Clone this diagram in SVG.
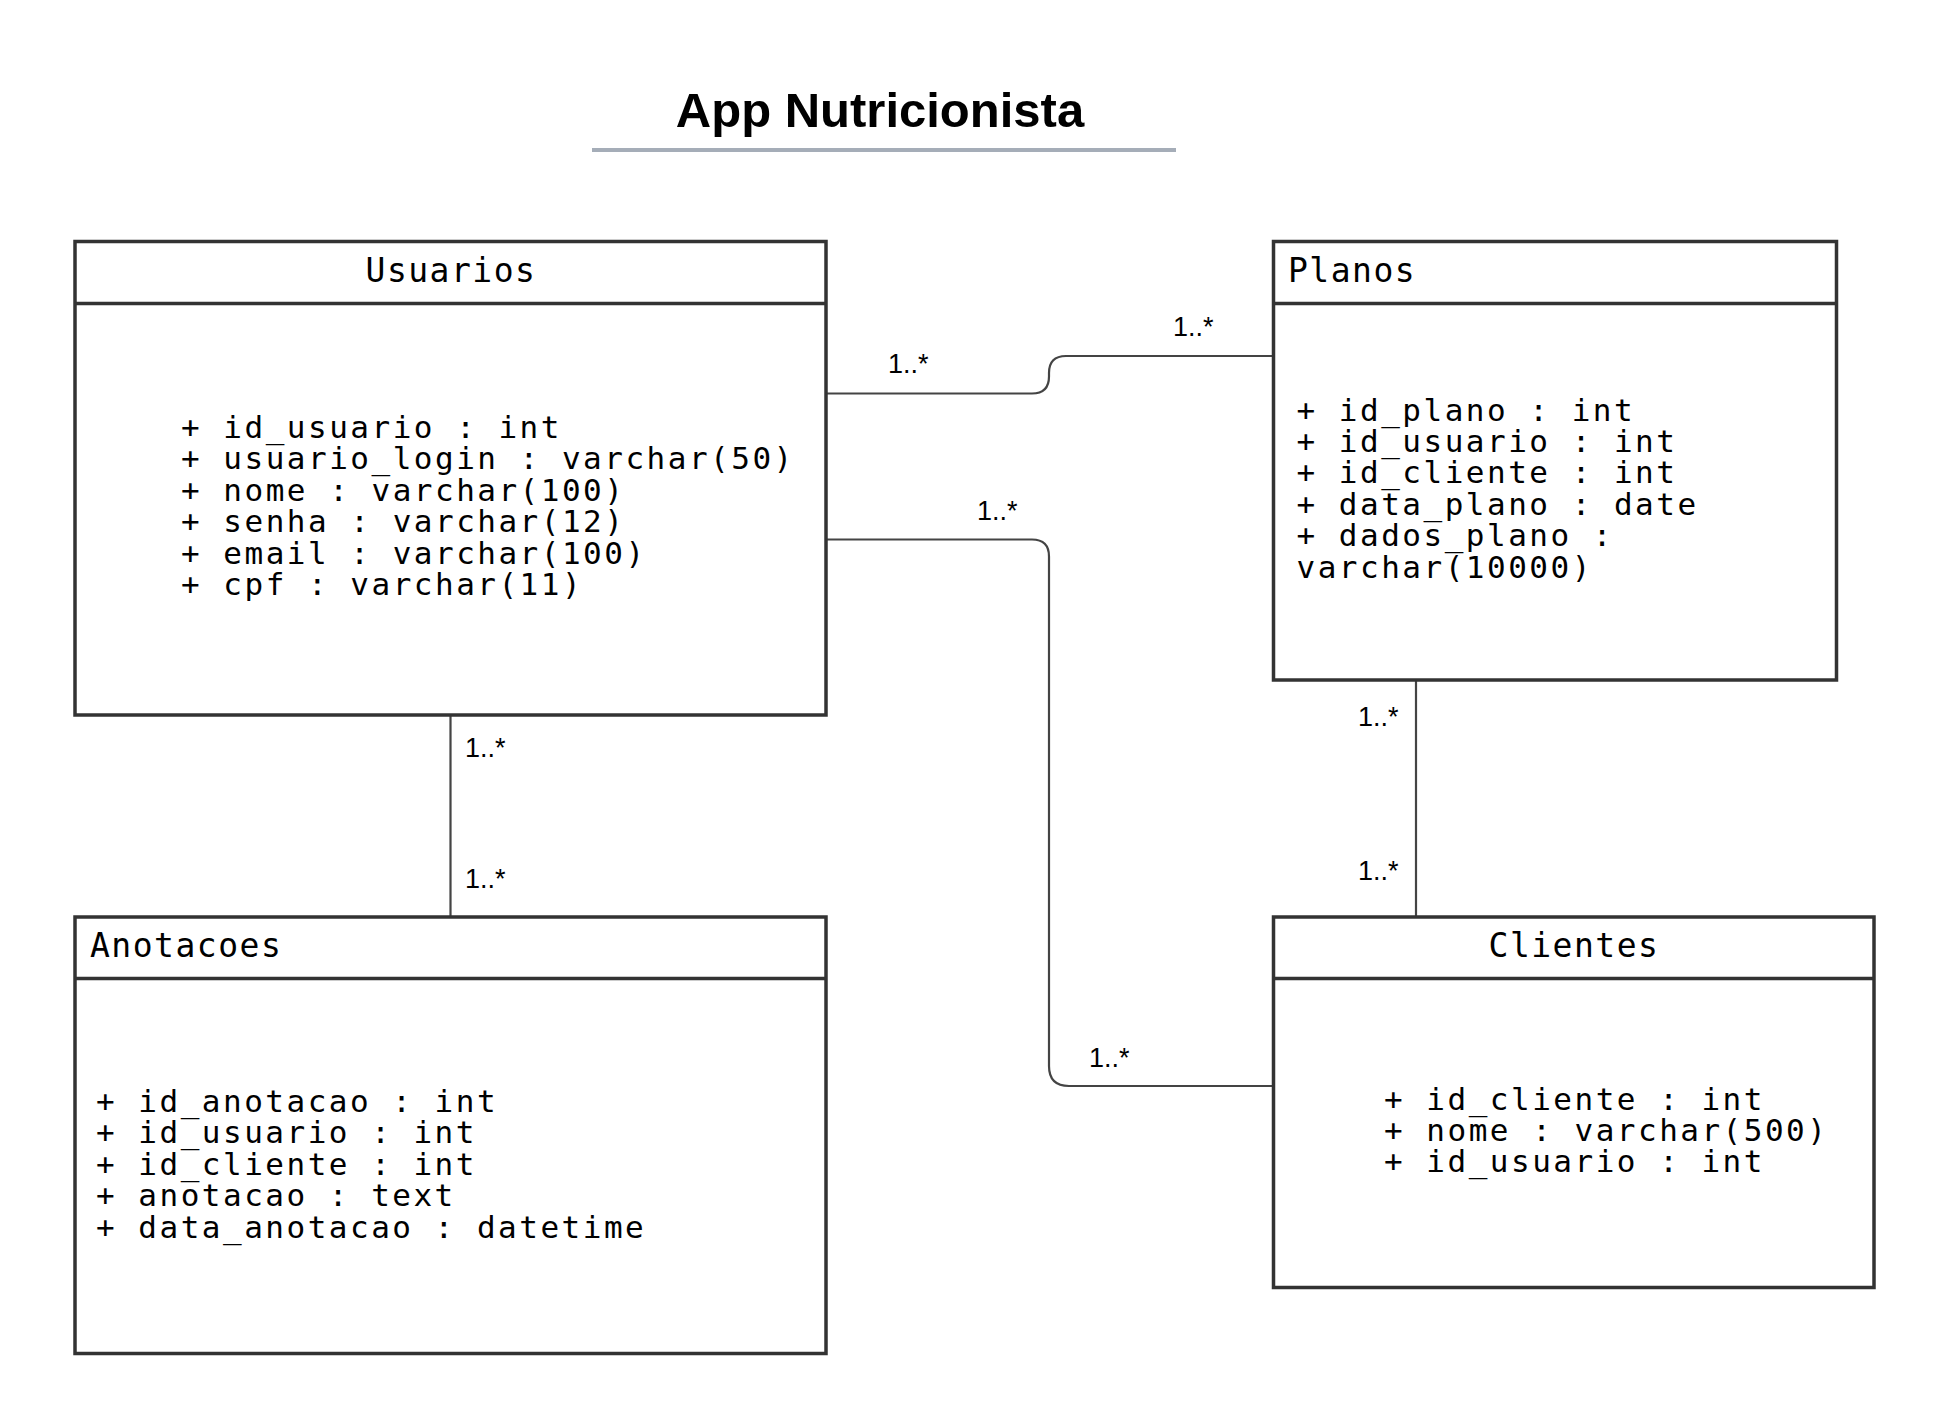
<svg xmlns="http://www.w3.org/2000/svg" width="1956" height="1423" viewBox="0 0 1956 1423">
<style>
.box{fill:#ffffff;stroke:#333333;stroke-width:3.5}
.div{stroke:#333333;stroke-width:3.5;fill:none}
.hdr{font-family:"DejaVu Sans Mono",monospace;font-size:33px;letter-spacing:1.5px;fill:#000}
.body{font-family:"DejaVu Sans Mono",monospace;font-size:31px;letter-spacing:2.5px;fill:#000}
.lbl{font-family:"Liberation Sans",Arial,sans-serif;font-size:27px;fill:#000}
.conn{fill:none;stroke:#444444;stroke-width:2.2}
.title{font-family:"Liberation Sans",Arial,sans-serif;font-size:49px;font-weight:bold;fill:#000}
</style>
<rect width="1956" height="1423" fill="#ffffff"/>
<g id="title">
<text class="title" x="880" y="127" text-anchor="middle">App Nutricionista</text>
<line x1="592" y1="150" x2="1176" y2="150" stroke="#a5adb8" stroke-width="4"/>
</g>
<g id="connectors">
<path class="conn" d="M826,393.5 H1032 Q1049,393.5 1049,376.5 V373 Q1049,356 1066,356 H1273.5"/>
<path class="conn" d="M826,539.5 H1032 Q1049,539.5 1049,556.5 V1066 Q1049,1086 1069,1086 H1273.5"/>
<path class="conn" d="M450.5,715 V917"/>
<path class="conn" d="M1416,680 V917"/>
<text class="lbl" x="888" y="373">1..*</text>
<text class="lbl" x="1173" y="336">1..*</text>
<text class="lbl" x="977" y="520">1..*</text>
<text class="lbl" x="1089" y="1067">1..*</text>
<text class="lbl" x="465" y="757">1..*</text>
<text class="lbl" x="465" y="888">1..*</text>
<text class="lbl" x="1358" y="726">1..*</text>
<text class="lbl" x="1358" y="880">1..*</text>
</g>
<g id="usuarios">
<rect class="box" x="75" y="241.5" width="751" height="473.5"/>
<line class="div" x1="75" y1="303.5" x2="826" y2="303.5"/>
<text class="hdr" x="451" y="282" text-anchor="middle">Usuarios</text>
<text class="body" x="181" y="438">+ id_usuario : int</text>
<text class="body" x="181" y="469.4">+ usuario_login : varchar(50)</text>
<text class="body" x="181" y="500.8">+ nome : varchar(100)</text>
<text class="body" x="181" y="532.2">+ senha : varchar(12)</text>
<text class="body" x="181" y="563.6">+ email : varchar(100)</text>
<text class="body" x="181" y="595">+ cpf : varchar(11)</text>
</g>
<g id="planos">
<rect class="box" x="1273.5" y="241.5" width="563" height="438.5"/>
<line class="div" x1="1273.5" y1="303.5" x2="1836.5" y2="303.5"/>
<text class="hdr" x="1288" y="282">Planos</text>
<text class="body" x="1296.5" y="420.5">+ id_plano : int</text>
<text class="body" x="1296.5" y="451.9">+ id_usuario : int</text>
<text class="body" x="1296.5" y="483.3">+ id_cliente : int</text>
<text class="body" x="1296.5" y="514.7">+ data_plano : date</text>
<text class="body" x="1296.5" y="546.1">+ dados_plano :</text>
<text class="body" x="1296.5" y="577.5">varchar(10000)</text>
</g>
<g id="anotacoes">
<rect class="box" x="75" y="917" width="751" height="436.5"/>
<line class="div" x1="75" y1="978.5" x2="826" y2="978.5"/>
<text class="hdr" x="90" y="957">Anotacoes</text>
<text class="body" x="96" y="1112">+ id_anotacao : int</text>
<text class="body" x="96" y="1143.4">+ id_usuario : int</text>
<text class="body" x="96" y="1174.8">+ id_cliente : int</text>
<text class="body" x="96" y="1206.2">+ anotacao : text</text>
<text class="body" x="96" y="1237.6">+ data_anotacao : datetime</text>
</g>
<g id="clientes">
<rect class="box" x="1273.5" y="917" width="600.5" height="370.5"/>
<line class="div" x1="1273.5" y1="978.5" x2="1874" y2="978.5"/>
<text class="hdr" x="1574" y="956.5" text-anchor="middle">Clientes</text>
<text class="body" x="1384" y="1110">+ id_cliente : int</text>
<text class="body" x="1384" y="1141.2">+ nome : varchar(500)</text>
<text class="body" x="1384" y="1172.4">+ id_usuario : int</text>
</g>
</svg>
